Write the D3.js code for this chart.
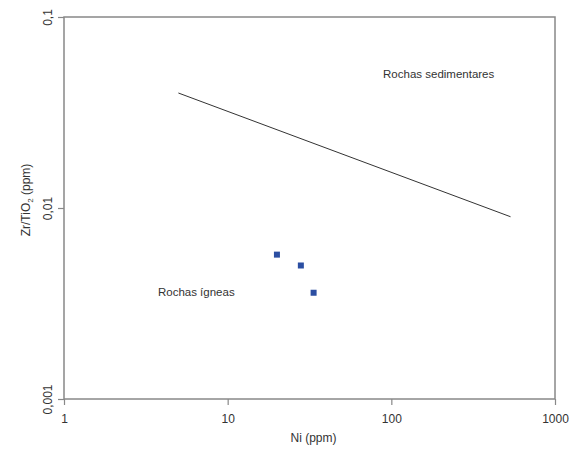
<!DOCTYPE html>
<html>
<head>
<meta charset="utf-8">
<script src="https://cdn.jsdelivr.net/npm/d3@7"></script>
<style>
  body { margin: 0; background: #fff; }
  text { font-family: "Liberation Sans", Arial, sans-serif; fill: #333; }
</style>
</head>
<body>
<div id="chart"></div>
<script>
// samples (Ni ppm, Zr/TiO2)
const niValues = [20, 28, 33.5];
const zrTiValues = [0.0057, 0.0050, 0.0036];

// discriminant line end points
const lineNi = [5, 535];
const lineZrTi = [0.040, 0.0090];

const xTicks = [1, 10, 100, 1000];
const xTickLabels = ['1', '10', '100', '1000'];
const yTicks = [0.1, 0.01, 0.001];
const yTickLabels = ['0,1', '0,01', '0,001'];

const fieldLabels = ['Rochas sedimentares', 'Rochas ígneas'];
const fieldLabelNi = [89, 3.75];
const fieldLabelZrTi = [0.048, 0.00345];

const W = 580, H = 451;
const margin = {top: 17, right: 25, bottom: 52, left: 64};
const width = W - margin.left - margin.right;
const height = H - margin.top - margin.bottom;

const x = d3.scaleLog().domain([1, 1000]).range([0, width]);
const y = d3.scaleLog().domain([0.001, 0.1]).range([height, 0]);

const svg = d3.select('#chart').append('svg')
    .attr('width', W)
    .attr('height', H);

const g = svg.append('g')
    .attr('transform', 'translate(' + margin.left + ',' + margin.top + ')');

// frame
g.append('rect')
    .attr('width', width)
    .attr('height', height)
    .attr('fill', 'none')
    .attr('stroke', '#888')
    .attr('stroke-width', 1.5);

const xAxis = g.append('g')
    .attr('transform', 'translate(0,' + height + ')')
    .call(d3.axisBottom(x).tickValues(xTicks).tickSize(6).tickPadding(9)
        .tickFormat((d, i) => xTickLabels[i]));
xAxis.select('.domain').remove();
xAxis.selectAll('line').attr('stroke', '#888').attr('stroke-width', 1.2);
xAxis.selectAll('text')
    .style('font-family', '"Liberation Sans", Arial, sans-serif')
    .style('font-size', '12px')
    .attr('fill', '#333');

const yAxis = g.append('g')
    .call(d3.axisLeft(y).tickValues(yTicks).tickSize(6)
        .tickFormat((d, i) => yTickLabels[i]));
yAxis.select('.domain').remove();
yAxis.selectAll('line').attr('stroke', '#888').attr('stroke-width', 1.2);
yAxis.selectAll('text')
    .attr('x', null).attr('dy', null)
    .attr('transform', 'translate(-12,0) rotate(-90)')
    .attr('text-anchor', 'middle')
    .style('font-family', '"Liberation Sans", Arial, sans-serif')
    .style('font-size', '12px')
    .attr('fill', '#333');

// axis titles
g.append('text')
    .attr('x', width / 2 + 4)
    .attr('y', height + 43)
    .attr('text-anchor', 'middle')
    .style('font-size', '12px')
    .text('Ni (ppm)');

const yTitle = g.append('text')
    .attr('transform', 'translate(-34,' + (height / 2 - 8) + ') rotate(-90)')
    .attr('text-anchor', 'middle')
    .style('font-size', '12px');
yTitle.append('tspan').text('Zr/TiO');
yTitle.append('tspan').attr('dy', 3).style('font-size', '8px').text('2');
yTitle.append('tspan').attr('dy', -3).text(' (ppm)');

// discriminant line
const line = d3.line()
    .x((d) => x(d[0]))
    .y((d) => y(d[1]));

g.append('path')
    .datum(lineNi.map((v, i) => [v, lineZrTi[i]]))
    .attr('d', line)
    .attr('fill', 'none')
    .attr('stroke', '#333')
    .attr('stroke-width', 1);

// samples
g.selectAll('.pt')
    .data(niValues.map((v, i) => [v, zrTiValues[i]]))
    .enter()
  .append('rect')
    .attr('class', 'pt')
    .attr('x', (d) => x(d[0]) - 3)
    .attr('y', (d) => y(d[1]) - 3)
    .attr('width', 6)
    .attr('height', 6)
    .attr('fill', '#2b4ea2');

// field labels
g.selectAll('.field')
    .data(fieldLabels)
    .enter()
  .append('text')
    .attr('class', 'field')
    .attr('x', (d, i) => x(fieldLabelNi[i]))
    .attr('y', (d, i) => y(fieldLabelZrTi[i]))
    .style('font-size', '11.5px')
    .text((d) => d);
</script>
</body>
</html>
